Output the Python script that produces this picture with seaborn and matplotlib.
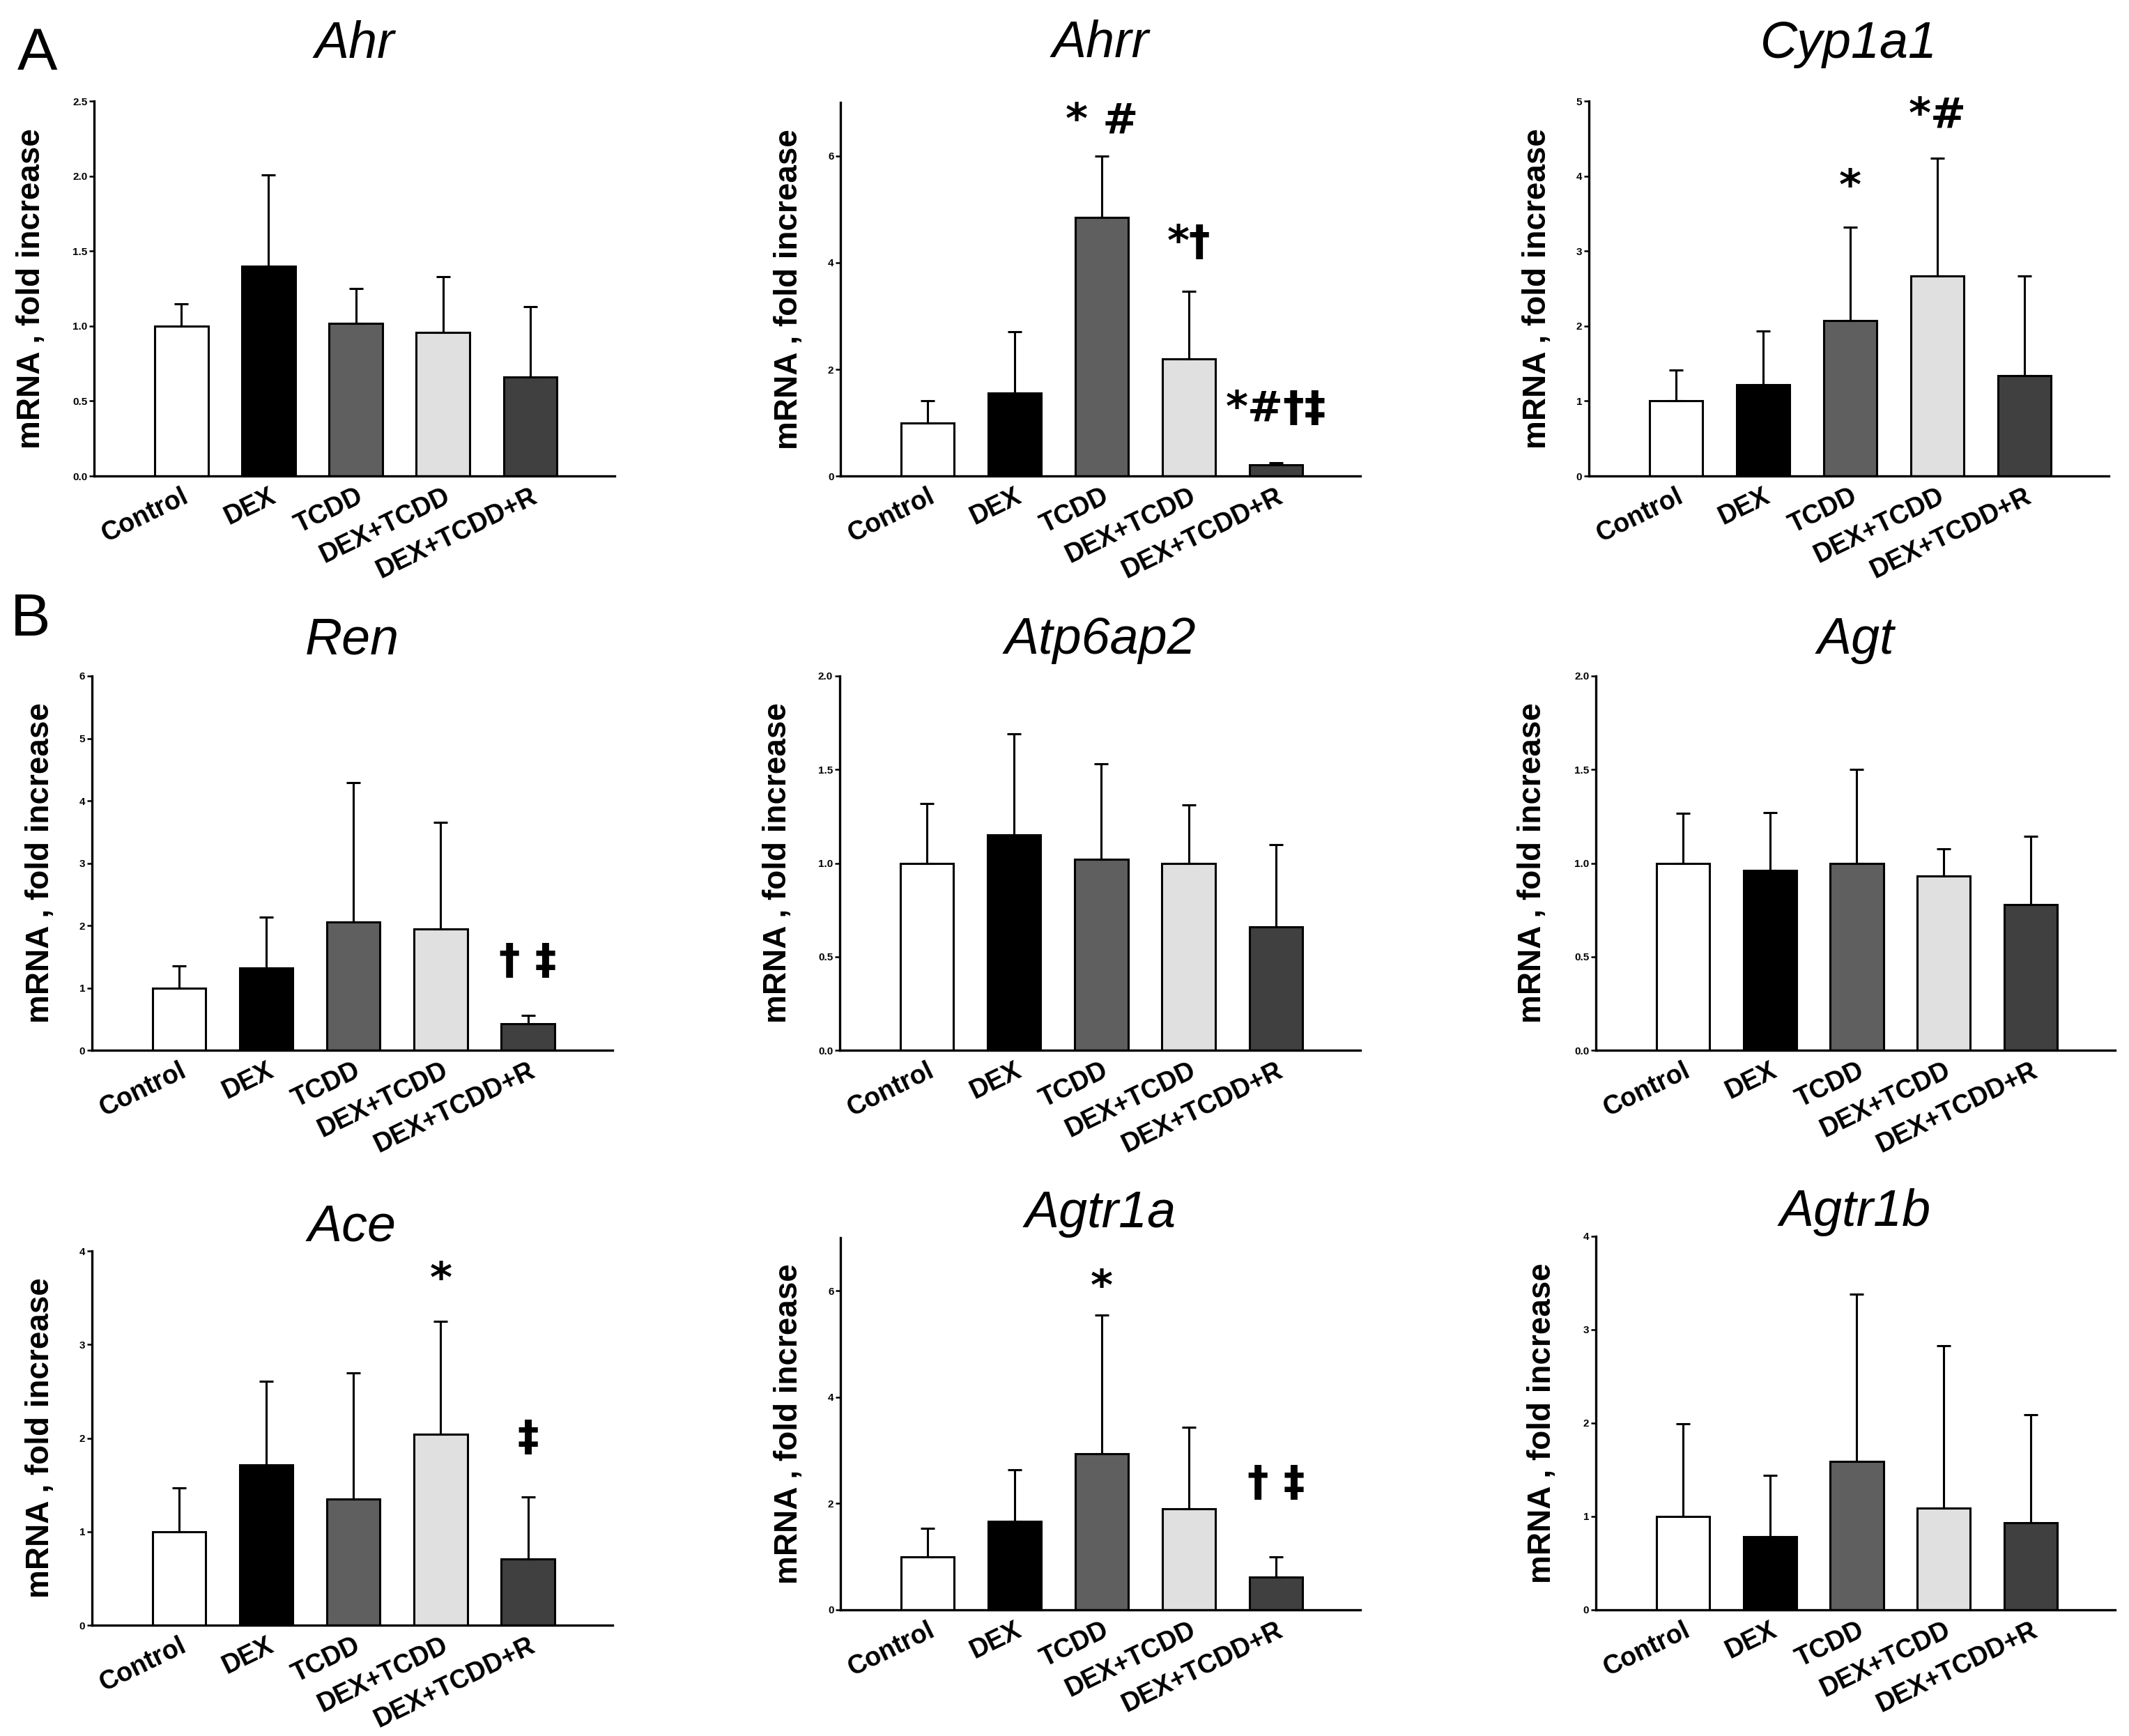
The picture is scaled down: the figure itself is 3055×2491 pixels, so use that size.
import matplotlib
matplotlib.use("Agg")
import matplotlib.pyplot as plt
import numpy as np
import pandas as pd
import seaborn as sns

# treatment groups and bar fills
groups = ["Control", "DEX", "TCDD", "DEX+TCDD", "DEX+TCDD+R"]
bar_colors = ["#ffffff", "#000000", "#5f5f5f", "#e0e0e0", "#404040"]

# mean fold increase and upper error
ahr_mean = [1.00, 1.40, 1.02, 0.96, 0.66]
ahr_err = [0.15, 0.61, 0.23, 0.37, 0.47]
ahrr_mean = [1.00, 1.55, 4.85, 2.19, 0.21]
ahrr_err = [0.41, 1.15, 1.15, 1.28, 0.04]
cyp1a1_mean = [1.00, 1.22, 2.07, 2.67, 1.34]
cyp1a1_err = [0.41, 0.71, 1.25, 1.57, 1.33]
ren_mean = [1.00, 1.32, 2.06, 1.95, 0.42]
ren_err = [0.35, 0.81, 2.23, 1.70, 0.14]
atp6ap2_mean = [1.00, 1.15, 1.02, 1.00, 0.66]
atp6ap2_err = [0.32, 0.54, 0.51, 0.31, 0.44]
agt_mean = [1.00, 0.96, 1.00, 0.93, 0.78]
agt_err = [0.265, 0.31, 0.50, 0.145, 0.365]
ace_mean = [1.00, 1.71, 1.35, 2.04, 0.71]
ace_err = [0.47, 0.90, 1.35, 1.21, 0.66]
agtr1a_mean = [1.00, 1.66, 2.94, 1.90, 0.62]
agtr1a_err = [0.53, 0.98, 2.60, 1.53, 0.37]
agtr1b_mean = [1.00, 0.78, 1.585, 1.085, 0.93]
agtr1b_err = [0.99, 0.66, 1.79, 1.74, 1.16]

# significance marks: (bar index, y, text)
ahrr_marks = [(2, 6.65, "* #"), (3, 4.36, "*†"), (4, 1.25, "*#†‡")]
cyp1a1_marks = [(2, 3.84, "*"), (3, 4.81, "*#")]
ren_marks = [(4, 1.41, "† ‡")]
ace_marks = [(3, 3.68, "*"), (4, 1.99, "‡")]
agtr1a_marks = [(2, 6.05, "*"), (4, 2.36, "† ‡")]

# title, means, errors, y max, tick step, tick format, marks
panels = [
    ("Ahr", ahr_mean, ahr_err, 2.5, 0.5, "{:.1f}", []),
    ("Ahrr", ahrr_mean, ahrr_err, 7.0, 2, "{:.0f}", ahrr_marks),
    ("Cyp1a1", cyp1a1_mean, cyp1a1_err, 5.0, 1, "{:.0f}", cyp1a1_marks),
    ("Ren", ren_mean, ren_err, 6.0, 1, "{:.0f}", ren_marks),
    ("Atp6ap2", atp6ap2_mean, atp6ap2_err, 2.0, 0.5, "{:.1f}", []),
    ("Agt", agt_mean, agt_err, 2.0, 0.5, "{:.1f}", []),
    ("Ace", ace_mean, ace_err, 4.0, 1, "{:.0f}", ace_marks),
    ("Agtr1a", agtr1a_mean, agtr1a_err, 7.0, 2, "{:.0f}", agtr1a_marks),
    ("Agtr1b", agtr1b_mean, agtr1b_err, 4.0, 1, "{:.0f}", []),
]

# layout: axes rect, title pad (pt), y label offset (axes fraction)
rects = [
    [0.0443, 0.7258, 0.2444, 0.2159],
    [0.3948, 0.7258, 0.2442, 0.2150],
    [0.7463, 0.7258, 0.2442, 0.2159],
    [0.0432, 0.3950, 0.2445, 0.2156],
    [0.3944, 0.3950, 0.2446, 0.2156],
    [0.7496, 0.3950, 0.2439, 0.2156],
    [0.0432, 0.0638, 0.2445, 0.2156],
    [0.3948, 0.0727, 0.2442, 0.2143],
    [0.7496, 0.0727, 0.2439, 0.2153],
]
title_pads = [45, 47, 45, 23, 23, 23, 10, -4, 0]
label_offsets = [0.092, 0.070, 0.069, 0.069, 0.090, 0.092, 0.069, 0.070, 0.074]

sns.set_style("ticks")
plt.rcParams["font.family"] = ["Liberation Sans", "DejaVu Sans"]
plt.rcParams.update({
    "text.color": "black",
    "axes.labelcolor": "black",
    "axes.edgecolor": "black",
    "xtick.color": "black",
    "ytick.color": "black",
})

fig = plt.figure(figsize=(30.55, 24.91), dpi=100)

for (title, mean, err, ymax, step, fmt, marks), rect, tpad, loff in zip(
        panels, rects, title_pads, label_offsets):
    ax = fig.add_axes(rect)
    df = pd.DataFrame({"group": groups, "value": mean})
    sns.barplot(data=df, x="group", y="value", hue="group", order=groups,
                hue_order=groups, palette=bar_colors, width=0.61,
                edgecolor="black", linewidth=2.2, errorbar=None,
                legend=False, ax=ax)
    ax.errorbar(np.arange(len(groups)), mean,
                yerr=[np.zeros(len(groups)), err], fmt="none",
                ecolor="black", elinewidth=2.2, capsize=7, capthick=2.2,
                zorder=1)
    ax.set_xlim(-1.0, 4.97)
    ax.set_ylim(0, ymax)
    ticks = np.arange(0, ymax + 1e-9, step)
    if ymax == 7.0:
        ticks = ticks[ticks <= 6]
    ax.set_yticks(ticks)
    ax.set_yticklabels([fmt.format(t) for t in ticks], fontsize=11,
                       fontweight="bold")
    ax.set_xticks(range(len(groups)))
    ax.set_xticklabels(groups, rotation=26, ha="right",
                       rotation_mode="anchor", fontsize=27,
                       fontweight="bold")
    ax.tick_params(axis="x", length=0, pad=8)
    ax.tick_params(axis="y", length=5, width=1.8, pad=2)
    ax.set_xlabel("")
    ax.set_ylabel("mRNA , fold increase", fontsize=33, fontweight="bold")
    ax.yaxis.set_label_coords(-loff, 0.5)
    ax.set_title(title, fontsize=53, fontstyle="italic", pad=tpad)
    sns.despine(ax=ax)
    for side in ["left", "bottom"]:
        ax.spines[side].set_linewidth(2.4)
    for xi, yi, txt in marks:
        ax.text(xi, yi, txt, ha="center", va="center", fontsize=44,
                fontweight="bold", family=["DejaVu Sans"])

fig.text(0.008, 0.960, "A", fontsize=62)
fig.text(0.005, 0.634, "B", fontsize=62)

fig.savefig("out.png", dpi=100, facecolor="white")
